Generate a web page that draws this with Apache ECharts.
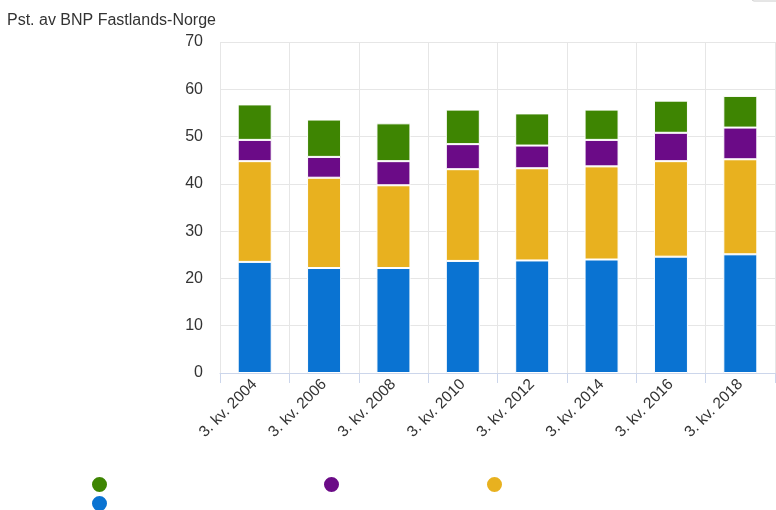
<!DOCTYPE html>
<html><head><meta charset="utf-8">
<script src="https://cdn.jsdelivr.net/npm/echarts@6/dist/echarts.min.js"></script>
<style>html,body{margin:0;padding:0;background:#fff}#c{width:776px;height:510px}</style>
</head><body><div id="c"></div>
<script>
const categories = ['3. kv. 2004','3. kv. 2006','3. kv. 2008','3. kv. 2010','3. kv. 2012','3. kv. 2014','3. kv. 2016','3. kv. 2018'];
const blueValues   = [23.5, 22.2, 22.2, 23.7, 23.8, 24.0, 24.6, 25.1];
const yellowValues = [21.3, 19.1, 17.5, 19.4, 19.5, 19.7, 20.2, 20.1];
const purpleValues = [4.5, 4.4, 5.1, 5.3, 4.8, 5.6, 6.0, 6.7];
const greenValues  = [7.5, 7.9, 8.0, 7.3, 6.8, 6.4, 6.8, 6.7];
const yTicks = [0, 10, 20, 30, 40, 50, 60, 70];
const seriesNames = ['Serie 1', 'Serie 2', 'Serie 3', 'Serie 4'];

const colors = ['#0a73d2', '#e8b11f', '#6b0b87', '#3e8502'];
const font = '"Liberation Sans", Arial, sans-serif';
const chart = echarts.init(document.getElementById('c'), null, {renderer: 'canvas'});

function mkSeries(name, data, color) {
  return {
    name, type: 'bar', stack: 'total', data, barWidth: 34,
    itemStyle: {color, borderColor: '#ffffff', borderWidth: 1},
    emphasis: {disabled: true}
  };
}
function mkLegend(name, left, top) {
  return {
    data: [name], left, top, icon: 'circle', itemWidth: 17, itemHeight: 17,
    formatter: () => ' ', selectedMode: false, padding: 0, itemGap: 0,
    textStyle: {fontSize: 1}
  };
}

chart.setOption({
  animation: false,
  title: {
    text: 'Pst. av BNP Fastlands-Norge', left: 7, top: 13, padding: 0,
    textStyle: {fontFamily: font, fontSize: 16, fontWeight: 'normal', color: '#333333'}
  },
  legend: [
    mkLegend(seriesNames[3], 90, 475),
    mkLegend(seriesNames[2], 322, 475),
    mkLegend(seriesNames[1], 485, 475),
    mkLegend(seriesNames[0], 90, 494)
  ],
  grid: {left: 220, right: 1, top: 42, bottom: 137},
  xAxis: {
    type: 'category', data: categories,
    axisLine: {lineStyle: {color: '#ccd6eb'}},
    axisTick: {show: true, length: 10, lineStyle: {color: '#ccd6eb'}},
    splitLine: {show: true, lineStyle: {color: '#e6e6e6'}},
    axisLabel: {rotate: 45, margin: 9, fontFamily: font, fontSize: 15.5, color: '#333333', interval: 0}
  },
  yAxis: {
    type: 'value', min: yTicks[0], max: yTicks[yTicks.length - 1], interval: 10,
    axisLine: {show: false}, axisTick: {show: false},
    splitLine: {lineStyle: {color: '#e6e6e6'}},
    axisLabel: {margin: 17, fontFamily: font, fontSize: 16, color: '#333333'}
  },
  graphic: [{
    type: 'rect', shape: {x: 752, y: -10, width: 40, height: 11, r: 2},
    style: {fill: '#ffffff', stroke: '#cccccc', lineWidth: 1}
  }],
  series: [
    mkSeries(seriesNames[0], blueValues, colors[0]),
    mkSeries(seriesNames[1], yellowValues, colors[1]),
    mkSeries(seriesNames[2], purpleValues, colors[2]),
    mkSeries(seriesNames[3], greenValues, colors[3])
  ]
});
</script>
</body></html>
